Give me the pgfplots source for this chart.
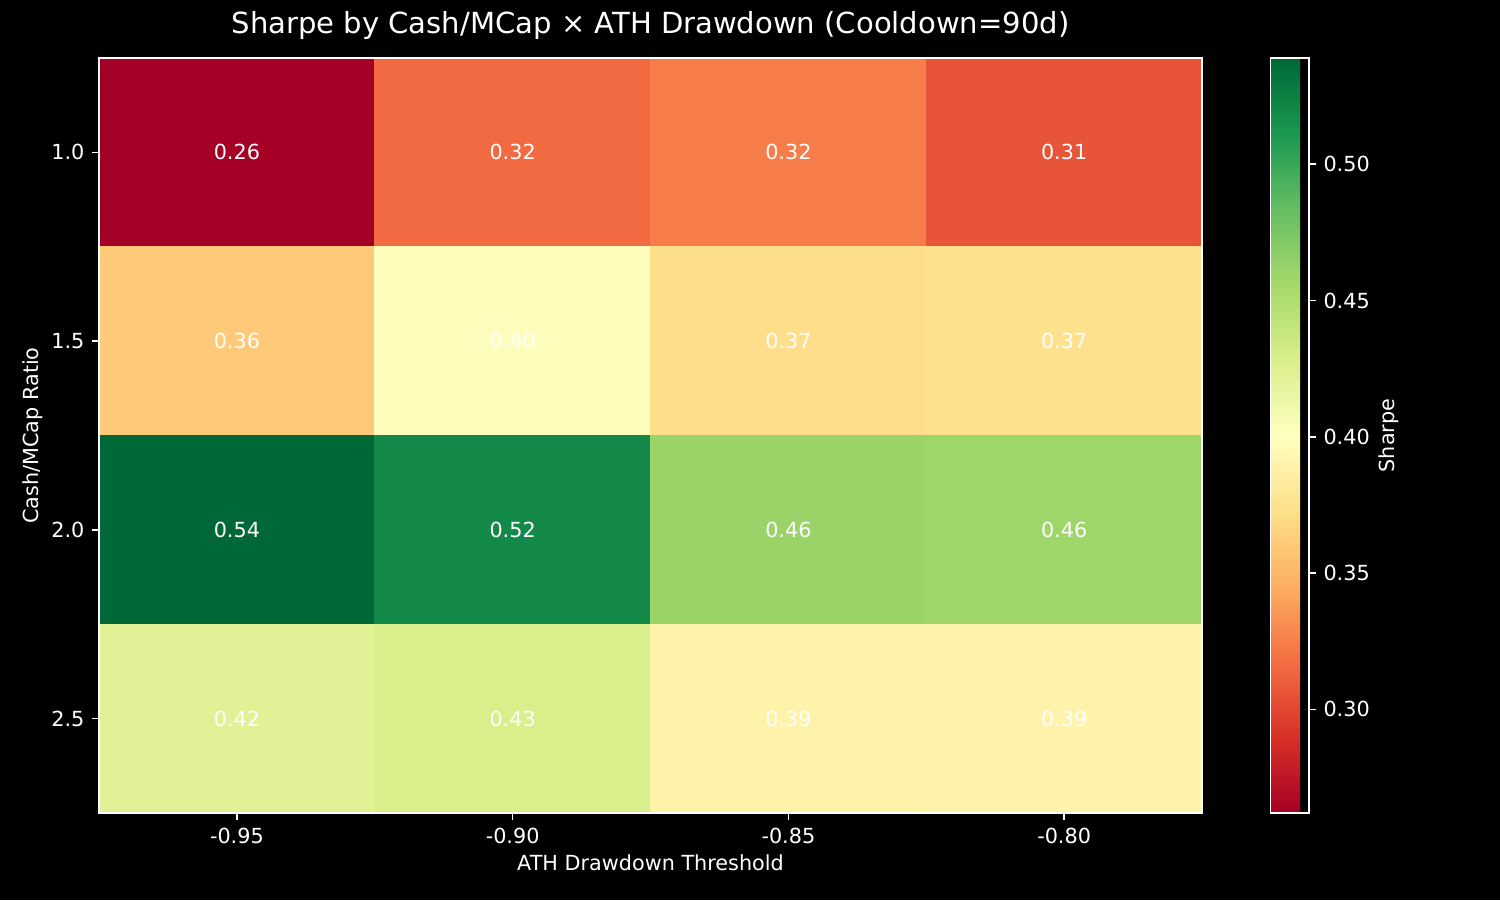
\documentclass[border=0pt]{standalone}
\usepackage{pgfplots}
\usepackage{pgfplotstable}
\pgfplotsset{compat=1.18}
\usepackage{fontspec}
\setmainfont{DejaVu Sans}

\pgfplotsset{
  colormap={RdYlGn}{
    rgb255=(165,0,38) rgb255=(215,48,39) rgb255=(244,109,67) rgb255=(253,174,97)
    rgb255=(254,224,139) rgb255=(255,255,191) rgb255=(217,239,139) rgb255=(166,217,106)
    rgb255=(102,189,99) rgb255=(26,152,80) rgb255=(0,104,55)
  }
}

% x: drawdown index (-0.95 .. -0.80), y: cash/mcap index (1.0 .. 2.5)
\pgfplotstableread{
x y z
0 0 0.262
1 0 0.316
2 0 0.324
3 0 0.306
0 1 0.360
1 1 0.399
2 1 0.372
3 1 0.374
0 2 0.539
1 2 0.520
2 2 0.461
3 2 0.459
0 3 0.423
1 3 0.428
2 3 0.389
3 3 0.390
}\sharpedata

\begin{document}
\begin{tikzpicture}
  \fill[black] (0,0) rectangle (720bp,432bp);
  \begin{axis}[
    at={(47.52bp,41.76bp)}, anchor=south west,
    scale only axis,
    width=529.44bp, height=362.4bp,
    colormap name=RdYlGn,
    point meta min=0.262, point meta max=0.539,
    xmin=-0.5, xmax=3.5, ymin=-0.5, ymax=3.5,
    y dir=reverse,
    enlargelimits=false,
    axis on top,
    axis line style={white, line width=0.8bp},
    tick style={white, line width=0.8bp},
    major tick length=3.5bp,
    tick align=outside,
    xtick pos=bottom, ytick pos=left,
    xtick={0,1,2,3}, ytick={0,1,2,3},
    xticklabels={-0.95,-0.90,-0.85,-0.80},
    yticklabels={1.0,1.5,2.0,2.5},
    ticklabel style={color=white, font=\fontsize{10}{12}\selectfont},
    title={Sharpe by Cash/MCap × ATH Drawdown (Cooldown=90d)},
    title style={at={(0.5,1)}, anchor=base, yshift=6bp, color=white, font=\fontsize{14}{17}\selectfont},
    xlabel={ATH Drawdown Threshold},
    xlabel style={at={(axis description cs:0.5,0)}, anchor=base, yshift=-27.6bp, color=white, font=\fontsize{10}{12}\selectfont},
    ylabel={Cash/MCap Ratio},
    ylabel style={at={(axis description cs:-0.0604,0.5)}, anchor=center, color=white, font=\fontsize{10}{12}\selectfont},
    colorbar,
    colorbar style={
      at={(parent axis.north east)}, anchor=north west, xshift=24.4bp,
      scale only axis,
      width=18.4bp,
      ytick={0.30,0.35,0.40,0.45,0.50},
      yticklabel={\pgfmathprintnumber[fixed,zerofill,precision=2,assume math mode=true]{\tick}},
      yticklabel style={color=white, font=\fontsize{10}{12}\selectfont},
      ytick pos=right, yticklabel pos=right,
      tick align=outside,
      major tick length=3.5bp,
      axis line style={white, line width=0.8bp},
      tick style={white, line width=0.8bp},
      ylabel={Sharpe},
      ylabel style={at={(axis description cs:1,0.5)}, anchor=center, yshift=-38.5bp, color=white, font=\fontsize{10}{12}\selectfont},
    },
  ]
    \addplot[
      matrix plot*, mesh/cols=4, point meta=explicit,
      nodes near coords={\pgfmathprintnumber[fixed,zerofill,precision=2,assume math mode=true]{\pgfplotspointmeta}},
      every node near coord/.append style={anchor=center, color=white, font=\fontsize{10}{12}\selectfont},
    ] table[x=x, y=y, meta=z] {\sharpedata};
  \end{axis}
\end{tikzpicture}
\end{document}
